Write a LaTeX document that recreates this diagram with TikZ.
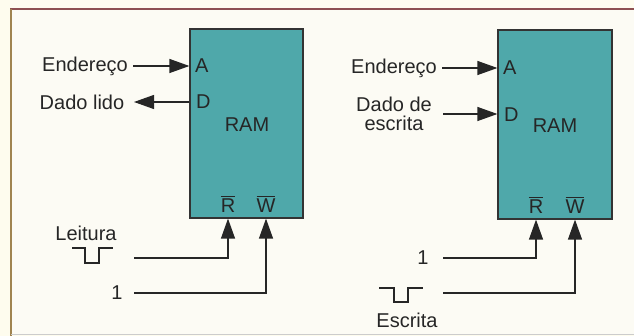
\documentclass[tikz,border=0pt]{standalone}
\usepackage{fontspec}
\setmainfont{Liberation Sans}
\usetikzlibrary{arrows.meta}
\definecolor{teal1}{HTML}{4FA8AA}
\definecolor{boxline}{HTML}{333333}
\definecolor{ink}{HTML}{262626}
\definecolor{paper}{HTML}{FCFBF4}
\definecolor{outer}{HTML}{FEFCEE}
\definecolor{frametop}{HTML}{8E5050}
\definecolor{frameleft}{HTML}{A08450}
\newcommand\ovlbar[1]{\vbox{\hrule height 1.2pt\kern 2pt\hbox{#1}}}
\tikzset{
  lbl/.style={font=\fontsize{20}{22}\selectfont, text=ink, inner sep=0pt, align=center},
  rambox/.style={draw=boxline, line width=1.2pt, fill=teal1, inner sep=0pt},
  wire/.style={draw=ink, line width=1.2pt},
  arr/.style={wire, -{Triangle[length=20pt,width=14pt]}},
  pulse/.style={draw=ink, line width=1.2pt}
}
\begin{document}
\begin{tikzpicture}[x=1pt,y=-1pt]
\useasboundingbox (0,0) rectangle (634,336);
\fill[outer] (0,0) rectangle (634,336);
\fill[paper] (11,9) rectangle (634,334);
\draw[frametop, line width=2pt] (10,9) -- (634,9);
\draw[frameleft, line width=2pt] (11,9) -- (11,336);
\draw[gray!40, line width=1pt] (11,334) -- (634,334);

% ---------- left diagram ----------
\node[rambox, minimum width=113pt, minimum height=189pt] (ramL) at (246.5,123.5) {};
\node[lbl] (ramLt) at (247,125) {RAM};
\node[lbl, anchor=west] (aL) at (195,66) {A};
\node[lbl, anchor=west] (dL) at (196,102) {D};
\node[lbl] (rL) at (228,204) {\ovlbar{R}};
\node[lbl] (wL) at (266,204) {\ovlbar{W}};

\node[lbl] (addrL) at (85,66) {Endereço};
\node[lbl] (dataL) at (82,102) {Dado lido};
\node[lbl] (leit) at (86,233) {Leitura};
\node[lbl] (oneL) at (117,293) {1};

\coordinate (addrLs) at (133,66);
\coordinate (dataLe) at (134,102);
\coordinate (rLs) at (134,258);
\coordinate (wLs) at (134,293);

\draw[arr] (addrLs) -- (addrLs -| ramL.west);
\draw[arr] (dataLe -| ramL.west) -- (dataLe);
\draw[arr] (rLs) -| (rL |- ramL.south);
\draw[arr] (wLs) -| (wL |- ramL.south);
\draw[pulse] (72,248) -- (85,248) -- (85,263) -- (99,263) -- (99,248) -- (113,248);

% ---------- right diagram ----------
\node[rambox, minimum width=114pt, minimum height=189pt] (ramR) at (555,124.5) {};
\node[lbl] (ramRt) at (555,126) {RAM};
\node[lbl, anchor=west] (aR) at (503,68) {A};
\node[lbl, anchor=west] (dR) at (504,115) {D};
\node[lbl] (rR) at (536,205) {\ovlbar{R}};
\node[lbl] (wR) at (575,205) {\ovlbar{W}};

\node[lbl] (addrR) at (394,68) {Endereço};
\node[lbl] (dataR) at (394,114) {Dado de\\[-3pt]escrita};
\node[lbl] (oneR) at (423,258) {1};
\node[lbl] (escr) at (407,320) {Escrita};

\coordinate (addrRs) at (442,68);
\coordinate (dataRs) at (443,114);
\coordinate (rRs) at (443,258);
\coordinate (wRs) at (443,293);

\draw[arr] (addrRs) -- (addrRs -| ramR.west);
\draw[arr] (dataRs) -- (dataRs -| ramR.west);
\draw[arr] (rRs) -| (rR |- ramR.south);
\draw[arr] (wRs) -| (wR |- ramR.south);
\draw[pulse] (379,288) -- (394,288) -- (394,302) -- (408,302) -- (408,288) -- (423,288);
\end{tikzpicture}
\end{document}
